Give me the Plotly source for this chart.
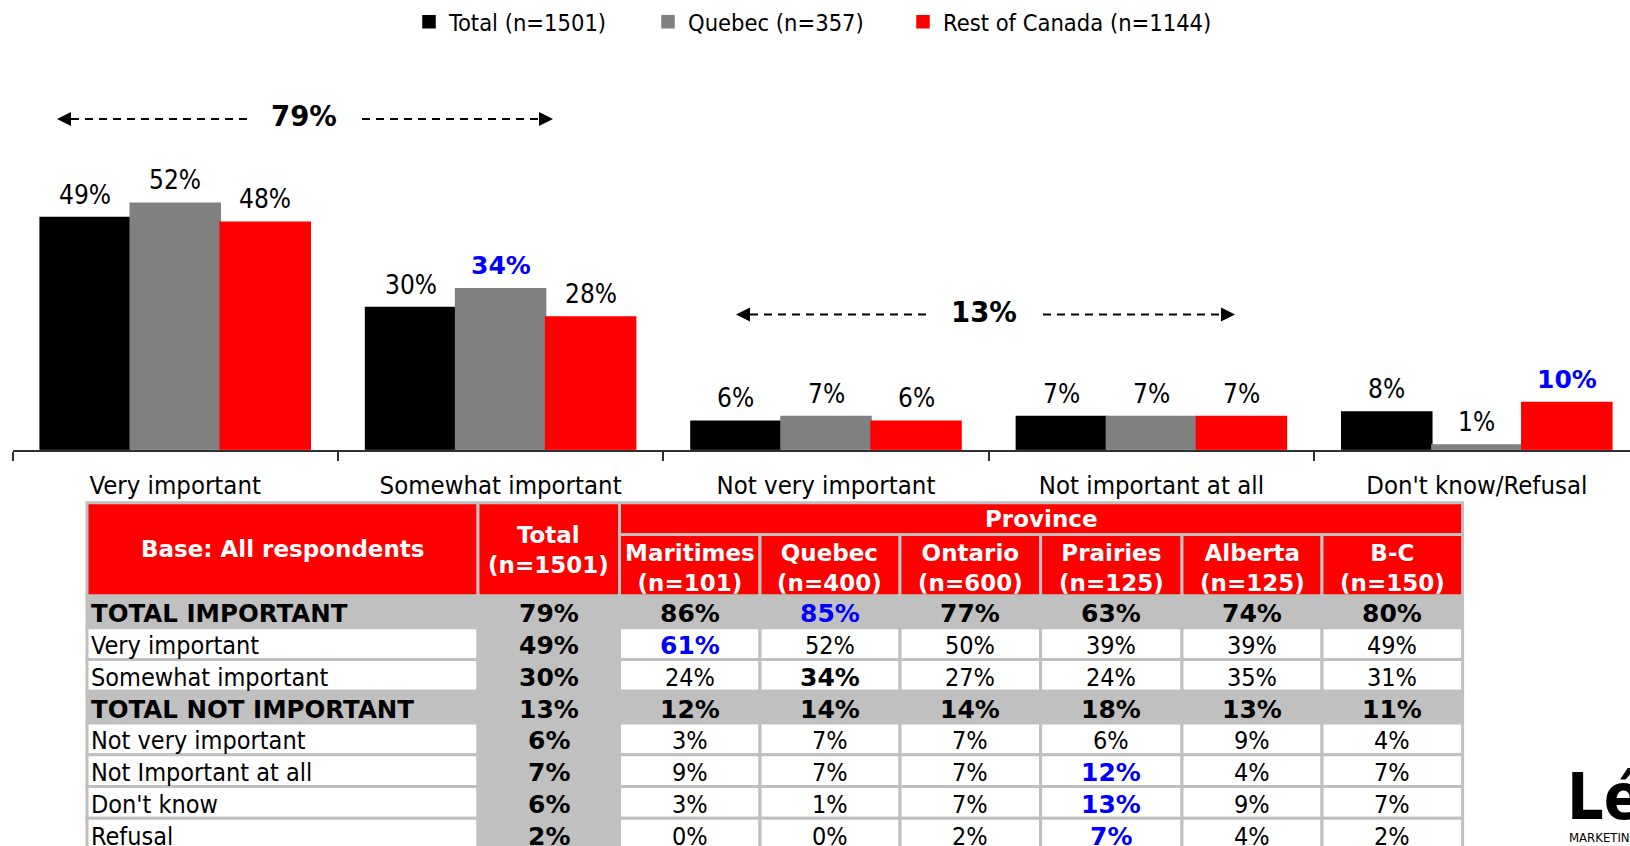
import plotly.graph_objects as go

# ---------------- data ----------------
categories = ["Very important", "Somewhat important", "Not very important",
              "Not important at all", "Don't know/Refusal"]
series_names = ["Total (n=1501)", "Quebec (n=357)", "Rest of Canada (n=1144)"]
total_vals = [49, 30, 6, 7, 8]
quebec_vals = [52, 34, 7, 7, 1]
roc_vals = [48, 28, 6, 7, 10]
# highlighted (significant) labels: (series index, category index)
bar_highlights = [(1, 1), (2, 4)]

net_labels = ["79%", "13%"]

table_row_labels = ["TOTAL IMPORTANT", "Very important", "Somewhat important",
                    "TOTAL NOT IMPORTANT", "Not very important",
                    "Not Important at all", "Don't know", "Refusal"]
table_base_label = "Base: All respondents"
table_total_header = ["Total", "(n=1501)"]
table_group_header = "Province"
table_col_names = ["Maritimes", "Quebec", "Ontario", "Prairies", "Alberta", "B-C"]
table_col_n = [101, 400, 600, 125, 125, 150]
t_total = [79, 49, 30, 13, 6, 7, 6, 2]
t_maritimes = [86, 61, 24, 12, 3, 9, 3, 0]
t_quebec = [85, 52, 34, 14, 7, 7, 1, 0]
t_ontario = [77, 50, 27, 14, 7, 7, 7, 2]
t_prairies = [63, 39, 24, 18, 6, 12, 13, 7]
t_alberta = [74, 39, 35, 13, 9, 4, 9, 4]
t_bc = [80, 49, 31, 11, 4, 7, 7, 2]
total_rows = [0, 3]                                     # summary rows (grey, bold)
blue_cells = [(0, 1), (1, 0), (3, 5), (3, 6), (3, 7)]   # (province col, row)
bold_cells = [(1, 2)]

# ---------------- styling ----------------
W, H = 1630, 846
FONT = "'DejaVu Sans Condensed', 'DejaVu Sans', sans-serif"
FONT_B = "'DejaVu Sans', sans-serif"
BLACK, GREY, RED, BLUE = "#000000", "#808080", "#FF0000", "#0000FF"
LGREY = "#C0C0C0"
colors = [BLACK, GREY, RED]


def px(x):
    return x / W


def py(y):
    return 1 - y / H


# bar chart geometry (pixels)
plot_left, axis_y, plot_top = 12.5, 446.5, 60
px_per_cat = 325.4
px_per_pct = 4.78
bargap = 0.17
bar_px = px_per_cat * (1 - bargap) / 3
x_range_max = -0.5 + (W - plot_left) / px_per_cat
y_range_max = (axis_y - plot_top) / px_per_pct

fig = go.Figure()
shapes, annotations = [], []

all_vals = [total_vals, quebec_vals, roc_vals]
legend_ids = ["legend", "legend2", "legend3"]
for s, (name, vals) in enumerate(zip(series_names, all_vals)):
    fig.add_trace(go.Bar(
        x=categories, y=vals, name=name, marker_color=colors[s],
        marker_line=dict(width=1.5, color=colors[s]), legend=legend_ids[s],
    ))
    for c, v in enumerate(vals):
        hl = (s, c) in bar_highlights
        annotations.append(dict(
            xref="x", yref="y", x=categories[c], y=v, xshift=(s - 1) * bar_px, yshift=23,
            text=f"<b>{v}%</b>" if hl else f"{v}%", showarrow=False,
            xanchor="center", yanchor="middle",
            font=dict(family=FONT_B if hl else FONT, size=25 if hl else 26,
                      color=BLUE if hl else BLACK)))

# ---------------- table (cells as shapes + text) ----------------
col_edges = [87, 478, 619.5, 760, 900, 1040.6, 1182, 1322, 1462.6]
hdr_top, hdr_mid, hdr_bot = 500, 532, 594
row_h = 32
row_edges = [hdr_bot + i * row_h for i in range(len(table_row_labels) + 1)]
prov_cols = [t_maritimes, t_quebec, t_ontario, t_prairies, t_alberta, t_bc]


def cell(x0, x1, y0, y1, fill):
    shapes.append(dict(type="rect", xref="paper", yref="paper", layer="below",
                       x0=px(x0), x1=px(x1), y0=py(y1), y1=py(y0),
                       fillcolor=fill, line=dict(color=LGREY, width=3)))


def text(x, y, t, size, bold=False, color=BLACK, anchor="center"):
    annotations.append(dict(xref="paper", yref="paper", x=px(x), y=py(y),
                            text=f"<b>{t}</b>" if bold else t, showarrow=False,
                            xanchor=anchor, yanchor="middle",
                            font=dict(family=FONT_B if bold else FONT, size=size, color=color)))


HDR_SIZE = 23
# merged header cells
cell(col_edges[0], col_edges[1], hdr_top, hdr_bot, RED)
text((col_edges[0] + col_edges[1]) / 2, (hdr_top + hdr_bot) / 2, table_base_label, HDR_SIZE, True, "white")
cell(col_edges[1], col_edges[2], hdr_top, hdr_bot, RED)
text((col_edges[1] + col_edges[2]) / 2, (hdr_top + hdr_bot) / 2 + 1,
     "<br>".join(table_total_header), HDR_SIZE, True, "white")
cell(col_edges[2], col_edges[-1], hdr_top, hdr_mid, RED)
text((col_edges[2] + col_edges[-1]) / 2, (hdr_top + hdr_mid) / 2, table_group_header, HDR_SIZE, True, "white")
for j, (nm, n) in enumerate(zip(table_col_names, table_col_n)):
    x0, x1 = col_edges[j + 2], col_edges[j + 3]
    cell(x0, x1, hdr_mid, hdr_bot, RED)
    text((x0 + x1) / 2, (hdr_mid + hdr_bot) / 2 + 3, f"{nm}<br>(n={n})", HDR_SIZE, True, "white")

# body
for i, lab in enumerate(table_row_labels):
    y0, y1 = row_edges[i], row_edges[i + 1]
    ym = (y0 + y1) / 2 + 2
    summary = i in total_rows
    row_fill = LGREY if summary else "white"
    cell(col_edges[0], col_edges[1], y0, y1, row_fill)
    text(col_edges[0] + 2, ym, lab, 24.5 if summary else 25, summary, BLACK, "left")
    cell(col_edges[1], col_edges[2], y0, y1, LGREY)
    text((col_edges[1] + col_edges[2]) / 2, ym, f"{t_total[i]}%", 25, True)
    for j, col in enumerate(prov_cols):
        x0, x1 = col_edges[j + 2], col_edges[j + 3]
        cell(x0, x1, y0, y1, row_fill)
        blue = (j, i) in blue_cells
        bold = blue or summary or (j, i) in bold_cells
        text((x0 + x1) / 2, ym, f"{col[i]}%", 25, bold, BLUE if blue else BLACK)

# ---------------- net arrows ----------------


def net_arrow(x_tip_l, x_gap_l, x_gap_r, x_tip_r, y, label, xlab, ylab):
    head_len, head_half = 14, 7
    dash = dict(color=BLACK, width=2, dash="8px,6px")
    shapes.append(dict(type="line", xref="paper", yref="paper",
                       x0=px(x_tip_l + head_len), x1=px(x_gap_l), y0=py(y), y1=py(y), line=dash))
    shapes.append(dict(type="line", xref="paper", yref="paper",
                       x0=px(x_gap_r), x1=px(x_tip_r - head_len), y0=py(y), y1=py(y), line=dash))
    for tip, base in ((x_tip_l, x_tip_l + head_len), (x_tip_r, x_tip_r - head_len)):
        shapes.append(dict(type="path", xref="paper", yref="paper",
                           path=f"M{px(tip)},{py(y)} L{px(base)},{py(y - head_half)} "
                                f"L{px(base)},{py(y + head_half)} Z",
                           fillcolor=BLACK, line=dict(width=0)))
    text(xlab, ylab, label, 27.5, True)


net_arrow(57, 253, 362, 553, 113, net_labels[0], 304, 110)
net_arrow(736, 932, 1043, 1235, 310, net_labels[1], 984, 308)

# logo (cut off at the right edge)
annotations.append(dict(xref="paper", yref="paper", x=px(1565), y=py(797), text="<b>Léger</b>",
                        showarrow=False, xanchor="left", yanchor="middle", height=58,
                        font=dict(family=FONT, size=64, color=BLACK)))
annotations.append(dict(xref="paper", yref="paper", x=px(1567), y=py(837), text="MARKETING",
                        showarrow=False, xanchor="left", yanchor="middle",
                        font=dict(family=FONT, size=13, color=BLACK)))

leg_common = dict(orientation="h", yanchor="middle", xanchor="left", y=py(15),
                  font=dict(family=FONT, size=23.5, color=BLACK), bgcolor="rgba(0,0,0,0)")

fig.update_layout(
    width=W, height=H, margin=dict(l=0, r=0, t=0, b=0),
    paper_bgcolor="white", plot_bgcolor="white",
    barmode="group", bargap=bargap, bargroupgap=0,
    font=dict(family=FONT, size=24, color=BLACK),
    xaxis=dict(domain=[px(plot_left), 1], range=[-0.5, x_range_max], type="category",
               showgrid=False, zeroline=False, showline=True, linecolor="#303030", linewidth=1.5,
               ticks="outside", tickson="boundaries", ticklen=9, tickwidth=1.5, tickcolor="#303030",
               tickfont=dict(family=FONT, size=25.5, color=BLACK), ticklabelstandoff=12,
               fixedrange=True),
    yaxis=dict(domain=[py(axis_y), py(plot_top)], range=[0, y_range_max], visible=False,
               fixedrange=True),
    showlegend=True,
    legend=dict(x=px(409), **leg_common),
    legend2=dict(x=px(648), **leg_common),
    legend3=dict(x=px(903), **leg_common),
    shapes=shapes, annotations=annotations,
)

fig.write_html("out.html", config={"displayModeBar": False},
               post_script="document.body.style.margin='0px';document.body.style.overflow='hidden';")
